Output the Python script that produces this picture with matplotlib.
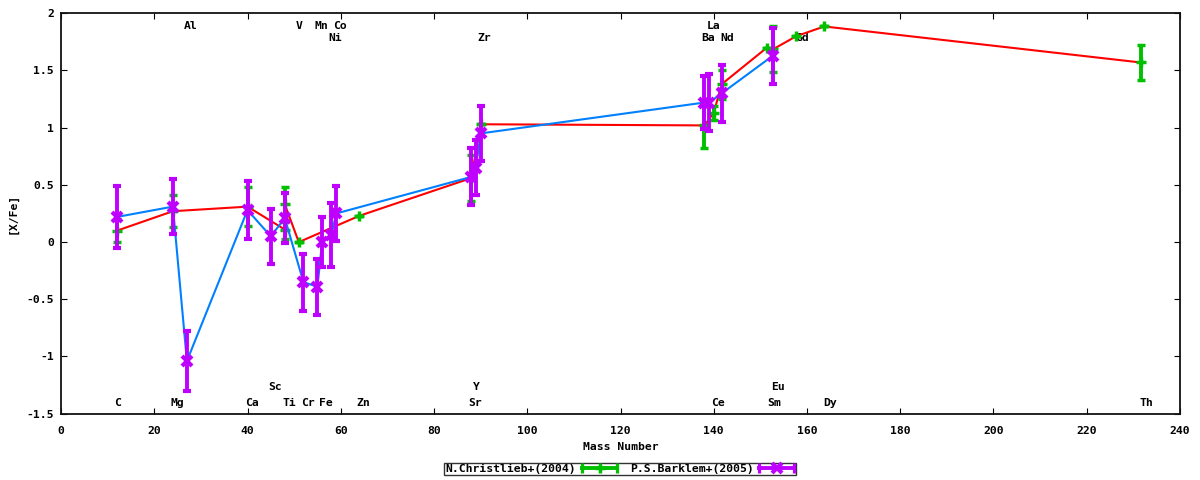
import matplotlib
matplotlib.use('Agg')
import matplotlib.pyplot as plt
from matplotlib.lines import Line2D
from matplotlib.legend_handler import HandlerLine2D, HandlerTuple
from matplotlib.font_manager import FontProperties

# ---- data: N.Christlieb+(2004) ----
chr_mass = [12, 24, 40, 48, 48, 51, 64, 88, 90, 138, 140, 141.7, 151.4, 152.7, 157.7, 163.7, 231.6]
chr_val  = [0.10, 0.27, 0.31, 0.11, 0.33, 0.00, 0.23, 0.56, 1.03, 1.02, 1.13, 1.38, 1.70, 1.685, 1.80, 1.885, 1.57]
chr_err  = [0.10, 0.14, 0.17, 0.08, 0.155, 0.0, 0.0, 0.20, 0.0, 0.20, 0.06, 0.125, 0.0, 0.20, 0.0, 0.0, 0.155]

# ---- data: P.S.Barklem+(2005) ----
bar_mass = [12, 24, 27, 40, 45, 48, 52, 55, 56, 58, 59, 88, 89, 90, 138, 139, 141.7, 152.7]
bar_val  = [0.22, 0.31, -1.04, 0.28, 0.05, 0.21, -0.35, -0.39, 0.00, 0.06, 0.25, 0.57, 0.65, 0.95, 1.22, 1.22, 1.30, 1.63]
bar_err  = [0.27, 0.24, 0.26, 0.25, 0.24, 0.22, 0.25, 0.245, 0.22, 0.28, 0.24, 0.25, 0.24, 0.24, 0.23, 0.25, 0.25, 0.245]

# ---- element labels ----
lab_top1 = [("Al", 27), ("V", 51), ("Mn", 55), ("Co", 59), ("La", 139)]
lab_top2 = [("Ni", 58), ("Zr", 90), ("Ba", 138), ("Nd", 142), ("Gd", 158)]
lab_bot2 = [("Sc", 45), ("Y", 89), ("Eu", 153)]
lab_bot1 = [("C", 12), ("Mg", 24), ("Ca", 40), ("Ti", 48), ("Cr", 52), ("Fe", 56), ("Zn", 64),
            ("Sr", 88), ("Ce", 140), ("Sm", 152), ("Dy", 164), ("Th", 232)]
row_y = [1.89, 1.785, -1.266, -1.41]

xticks = [0, 20, 40, 60, 80, 100, 120, 140, 160, 180, 200, 220, 240]
yticks = [-1.5, -1, -0.5, 0, 0.5, 1, 1.5, 2]
ytick_labels = ["-1.5", "-1", "-0.5", "0", "0.5", "1", "1.5", "2"]

RED = '#ff0000'
GREEN = '#00c000'
BLUE = '#0080ff'
PURPLE = '#c000ff'

font = FontProperties(family='DejaVu Sans Mono', weight='bold', size=8.2)

fig = plt.figure(figsize=(12, 4.8), dpi=100)
ax = fig.add_axes([61/1200, 1-413.7/480, (1180-61)/1200, (413.7-13.3)/480])

ax.plot(chr_mass, chr_val, color=RED, lw=1.5, zorder=2)
ax.errorbar(chr_mass, chr_val, yerr=chr_err, fmt='+', color=GREEN, ms=7.5, mew=2.5,
            elinewidth=2.8, capsize=3, capthick=2.3, zorder=3)
ax.plot(bar_mass, bar_val, color=BLUE, lw=1.5, zorder=3.5)
ax.errorbar(bar_mass, bar_val, yerr=bar_err, fmt='x', color=PURPLE, ms=7, mew=3,
            elinewidth=2.8, capsize=3, capthick=2.3, zorder=4)

for row, yy in zip([lab_top1, lab_top2, lab_bot2, lab_bot1], row_y):
    for name, m in row:
        ax.text(m - 0.6, yy, name, ha='left', va='center', fontproperties=font, zorder=1)

ax.set_xlim(0, 240)
ax.set_ylim(-1.5, 2)
ax.set_xticks(xticks)
ax.set_xticklabels([str(t) for t in xticks], fontproperties=font)
ax.set_yticks(yticks)
ax.set_yticklabels(ytick_labels, fontproperties=font)
ax.tick_params(direction='in', length=4, width=0.8, top=True, right=True, color='black')
ax.tick_params(axis='x', pad=9)
ax.tick_params(axis='y', pad=5)
for s in ax.spines.values():
    s.set_linewidth(1.3)
    s.set_color('#111111')

ax.set_xlabel("Mass Number", fontproperties=font, va='center')
ax.xaxis.set_label_coords(0.5, (413.7-446.7)/400.4)
ax.set_ylabel("[X/Fe]", fontproperties=font, va='center')
ax.yaxis.set_label_coords((13-61)/1119, 0.5)

# legend
g_line = Line2D([], [], color=GREEN, lw=2.8, marker='|', ms=6.5, mew=2.3)
g_mark = Line2D([], [], color=GREEN, lw=0, marker='+', ms=7.5, mew=2.5)
p_line = Line2D([], [], color=PURPLE, lw=2.8, marker='|', ms=6.5, mew=2.3)
p_mark = Line2D([], [], color=PURPLE, lw=0, marker='x', ms=7, mew=3)
hmap = {g_line: HandlerLine2D(numpoints=2, marker_pad=0),
        p_line: HandlerLine2D(numpoints=2, marker_pad=0),
        g_mark: HandlerLine2D(numpoints=1),
        p_mark: HandlerLine2D(numpoints=1),
        tuple: HandlerTuple(ndivide=1)}
leg = fig.legend([(g_line, g_mark), (p_line, p_mark)],
                 ["N.Christlieb+(2004)", "P.S.Barklem+(2005)"],
                 loc='center', bbox_to_anchor=(620/1200, 1-469/480), ncol=2,
                 markerfirst=False, handlelength=3.1, handletextpad=0.5,
                 columnspacing=1.1, borderpad=0.1, borderaxespad=0,
                 frameon=True, fancybox=False, prop=font, handler_map=hmap)
leg.get_frame().set_edgecolor('black')
leg.get_frame().set_linewidth(1.0)

fig.savefig('out.png', dpi=100)
